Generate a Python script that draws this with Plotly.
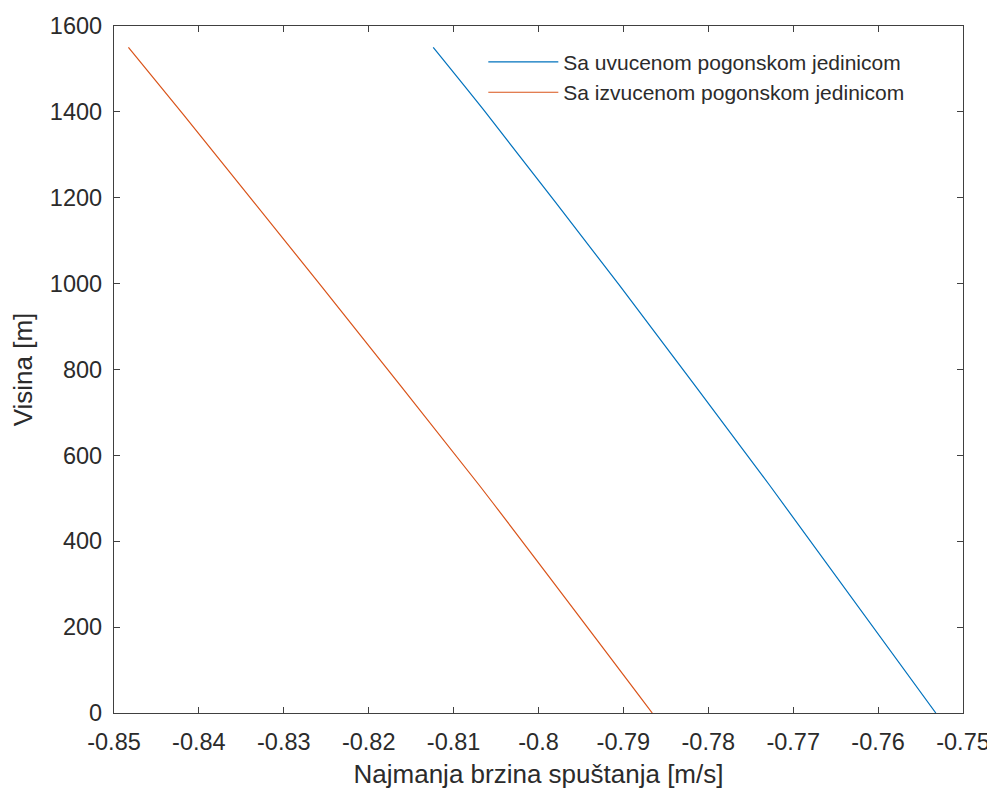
import plotly.graph_objects as go

visina = [1550, 1393, 997, 531, 0]
brzina_uvucena = [-0.8124, -0.8060, -0.7905, -0.7728, -0.7532]
brzina_izvucena = [-0.8483, -0.8418, -0.8257, -0.8070, -0.7866]

x_ticks = [-0.85, -0.84, -0.83, -0.82, -0.81, -0.8, -0.79, -0.78, -0.77, -0.76, -0.75]
x_labels = ["-0.85", "-0.84", "-0.83", "-0.82", "-0.81", "-0.8", "-0.79", "-0.78", "-0.77", "-0.76", "-0.75"]
y_ticks = [0, 200, 400, 600, 800, 1000, 1200, 1400, 1600]

font_fam = "Liberation Sans, Arial, sans-serif"
axis_col = "#404040"
txt_col = "#2b2b2b"

fig = go.Figure()
fig.add_trace(go.Scatter(x=brzina_uvucena, y=visina, mode="lines",
                         name="Sa uvucenom pogonskom jedinicom",
                         line=dict(color="#0072BD", width=1.2, shape="spline", smoothing=0.6)))
fig.add_trace(go.Scatter(x=brzina_izvucena, y=visina, mode="lines",
                         name="Sa izvucenom pogonskom jedinicom",
                         line=dict(color="#D95319", width=1.2, shape="spline", smoothing=0.6)))

axcommon = dict(showline=True, linecolor=axis_col, linewidth=1.3, mirror="ticks",
                ticks="inside", ticklen=6, tickcolor=axis_col, tickwidth=1,
                showgrid=False, zeroline=False, automargin=False,
                tickfont=dict(family=font_fam, size=23.5, color=txt_col))

fig.update_layout(
    width=995, height=790,
    margin=dict(l=106, r=40, t=18, b=85),
    paper_bgcolor="white", plot_bgcolor="white",
    font=dict(family=font_fam, color=txt_col),
    xaxis=dict(range=[-0.85, -0.75], tickvals=x_ticks, ticktext=x_labels,
               ticklabelstandoff=8,
               title=dict(text="Najmanja brzina spuštanja [m/s]", font=dict(size=26, color=txt_col), standoff=10),
               **axcommon),
    yaxis=dict(range=[0, 1600], tickvals=y_ticks,
               ticklabelstandoff=6,
               title=dict(text="Visina [m]", font=dict(size=26, color=txt_col), standoff=14),
               **axcommon),
    legend=dict(x=0.435, y=0.977, xanchor="left", yanchor="top",
                bgcolor="rgba(255,255,255,0)", borderwidth=0,
                font=dict(family=font_fam, size=21, color=txt_col),
                itemwidth=70, tracegroupgap=0),
    showlegend=True,
)

fig.write_html("out.html")
